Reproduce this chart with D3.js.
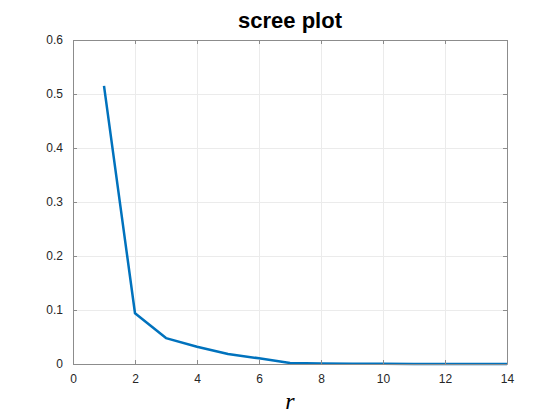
<!DOCTYPE html>
<html>
<head>
<meta charset="utf-8">
<script src="https://cdn.jsdelivr.net/npm/d3@7"></script>
<style>
  body { margin: 0; background: #fff; }
  svg { display: block; }
  text { font-family: "Liberation Sans", Arial, Helvetica, sans-serif; }
</style>
</head>
<body>
<div id="chart"></div>
<script>
const components = [1, 2, 3, 4, 5, 6, 7, 8, 9, 10, 11, 12, 13, 14];
const eigenShare = [0.515, 0.094, 0.048, 0.032, 0.0185, 0.0105, 0.002, 0.001, 0.0005, 0.0003, 0.0002, 0.0001, 0.0001, 0.0];
const xTicks = [0, 2, 4, 6, 8, 10, 12, 14];
const yTicks = [0, 0.1, 0.2, 0.3, 0.4, 0.5, 0.6];

const width = 560;
const height = 420;
const margin = { top: 40, right: 53, bottom: 56, left: 73 };

const svg = d3.select("#chart").append("svg")
  .attr("width", width)
  .attr("height", height);

const x = d3.scaleLinear().domain([0, 14]).range([margin.left, width - margin.right]);
const y = d3.scaleLinear().domain([0, 0.6]).range([height - margin.bottom, margin.top]);

const axisColor = "#8c8c8c";
const tickLen = 4;

// grid
const grid = svg.append("g").attr("class", "grid");
grid.selectAll(".gx")
  .data(xTicks.slice(1, -1))
  .enter().append("line")
  .attr("x1", d => x(d) + 0.5).attr("x2", d => x(d) + 0.5)
  .attr("y1", y(0.6)).attr("y2", y(0))
  .attr("stroke", "#ebebeb").attr("stroke-width", 1);
grid.selectAll(".gy")
  .data(yTicks.slice(1, -1))
  .enter().append("line")
  .attr("x1", x(0)).attr("x2", x(14))
  .attr("y1", d => Math.round(y(d)) + 0.5).attr("y2", d => Math.round(y(d)) + 0.5)
  .attr("stroke", "#ebebeb").attr("stroke-width", 1);

// the curve
const line = d3.line()
  .x((d, i) => x(components[i]))
  .y(d => y(d));

svg.append("path")
  .datum(eigenShare)
  .attr("fill", "none")
  .attr("stroke", "#0072BD")
  .attr("stroke-width", 2.5)
  .attr("stroke-linejoin", "round")
  .attr("d", line);

// axes (box on, ticks inside)
function styleAxis(g) {
  g.select(".domain").attr("stroke", axisColor);
  g.selectAll(".tick line").attr("stroke", axisColor);
  g.selectAll(".tick text")
    .attr("fill", "#262626")
    .style("font-size", "12px");
}

svg.append("g")
  .attr("transform", `translate(0,${y(0)})`)
  .call(d3.axisBottom(x).tickValues(xTicks).tickFormat(d3.format("d"))
    .tickSizeInner(-tickLen).tickSizeOuter(0).tickPadding(10))
  .call(styleAxis);

svg.append("g")
  .attr("transform", `translate(0,${y(0.6)})`)
  .call(d3.axisTop(x).tickValues(xTicks).tickFormat("")
    .tickSizeInner(-tickLen).tickSizeOuter(0))
  .call(styleAxis);

svg.append("g")
  .attr("transform", `translate(${x(0)},0)`)
  .call(d3.axisLeft(y).tickValues(yTicks).tickFormat(d => d === 0 ? "0" : d3.format(".1f")(d))
    .tickSizeInner(-tickLen).tickSizeOuter(0).tickPadding(10))
  .call(styleAxis);

svg.append("g")
  .attr("transform", `translate(${x(14)},0)`)
  .call(d3.axisRight(y).tickValues(yTicks).tickFormat("")
    .tickSizeInner(-tickLen).tickSizeOuter(0))
  .call(styleAxis);

// title
svg.append("text")
  .attr("x", (x(0) + x(14)) / 2)
  .attr("y", 28)
  .attr("text-anchor", "middle")
  .style("font-size", "22px")
  .style("font-weight", "bold")
  .attr("fill", "#000")
  .text("scree plot");

// x label
svg.append("text")
  .attr("x", (x(0) + x(14)) / 2)
  .attr("y", 409)
  .attr("text-anchor", "middle")
  .style("font-family", "'Liberation Serif', 'DejaVu Serif', serif")
  .style("font-style", "italic")
  .style("font-size", "24px")
  .attr("fill", "#000")
  .text("r");
</script>
</body>
</html>
